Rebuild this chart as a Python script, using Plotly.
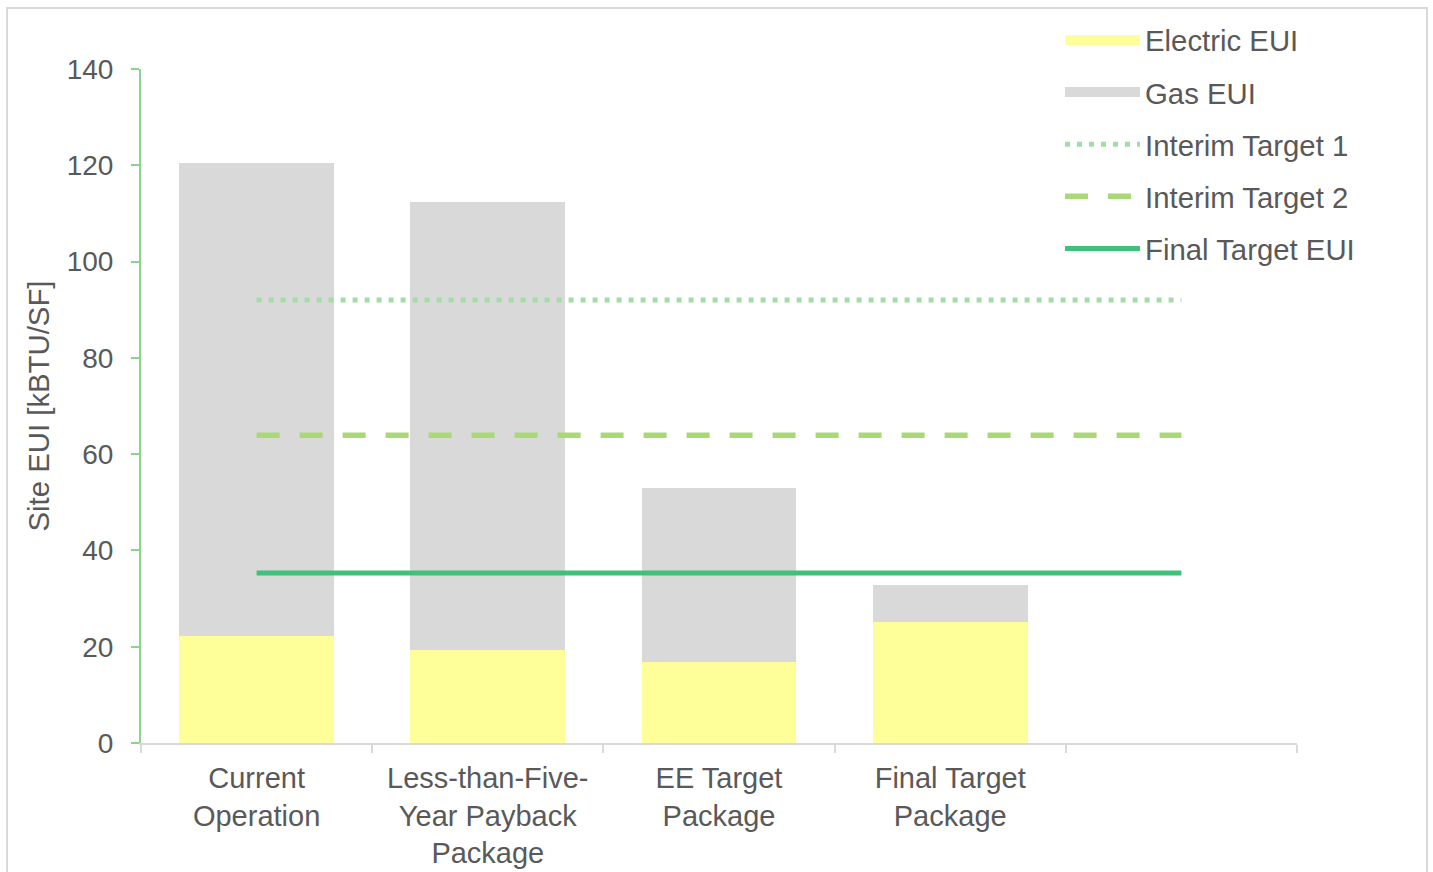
import plotly.graph_objects as go

categories = ["Current Operation", "Less-than-Five-Year Payback Package",
              "EE Target Package", "Final Target Package", " "]
tick_labels = ["Current<br>Operation", "Less-than-Five-<br>Year Payback<br>Package",
               "EE Target<br>Package", "Final Target<br>Package", ""]
electric_eui = [22.3, 19.4, 16.9, 25.2]
gas_eui = [98.2, 93.0, 36.1, 7.6]
interim_target_1 = 92.0
interim_target_2 = 63.9
final_target = 35.3

TXT = "#595959"
FONT = "Liberation Sans, Arial, sans-serif"
GREEN_AX = "#8AD48E"
ELEC = "#FFFF99"
GAS = "#D9D9D9"

fig = go.Figure()
fig.add_trace(go.Bar(x=categories[:4], y=electric_eui, name="Electric EUI",
                     marker=dict(color=ELEC, line=dict(width=0)), width=0.67,
                     showlegend=False, legendgroup="a"))
fig.add_trace(go.Bar(x=categories[:4], y=gas_eui, name="Gas EUI",
                     marker=dict(color=GAS, line=dict(width=0)), width=0.67,
                     showlegend=False, legendgroup="b"))
# legend swatches for the bar series (wide patches, as in the original)
fig.add_trace(go.Scatter(x=[None], y=[None], mode="lines", name="Electric EUI",
                         line=dict(color=ELEC, width=14), legendgroup="a"))
fig.add_trace(go.Scatter(x=[None], y=[None], mode="lines", name="Gas EUI",
                         line=dict(color=GAS, width=14), legendgroup="b"))
line_x = [categories[0], categories[-1]]
fig.add_trace(go.Scatter(x=line_x, y=[interim_target_1] * 2, mode="lines", name="Interim Target 1",
                         line=dict(color="#A3DDA5", width=5, dash="5px,7px"), legendgroup="c"))
fig.add_trace(go.Scatter(x=line_x, y=[interim_target_2] * 2, mode="lines", name="Interim Target 2",
                         line=dict(color="#A9D876", width=5.5, dash="23px,20px"), legendgroup="d"))
fig.add_trace(go.Scatter(x=line_x, y=[final_target] * 2, mode="lines", name="Final Target EUI",
                         line=dict(color="#3EC27B", width=5), legendgroup="e"))

fig.update_layout(
    barmode="stack",
    width=1433, height=872,
    margin=dict(l=141, r=136, t=69, b=129),
    paper_bgcolor="white", plot_bgcolor="white",
    font=dict(family=FONT, size=28, color=TXT),
    legend=dict(x=0.795, y=1.081, xanchor="left", yanchor="top",
                font=dict(size=29.33, color=TXT), tracegroupgap=11,
                traceorder="grouped", itemwidth=75, bgcolor="rgba(0,0,0,0)"),
    xaxis=dict(type="category", categoryorder="array", categoryarray=categories,
               range=[-0.5, 4.5], tickvals=categories, ticktext=tick_labels,
               tickson="boundaries", ticks="outside", ticklen=8, tickwidth=2,
               tickcolor="#D9D9D9", showline=True, linecolor="#D9D9D9", linewidth=2,
               showgrid=False, tickfont=dict(size=29, color=TXT), ticklabelstandoff=8,
               automargin=False),
    yaxis=dict(range=[0, 140], dtick=20, showgrid=False, zeroline=False,
               showline=True, linecolor=GREEN_AX, linewidth=2,
               ticks="outside", ticklen=8, tickwidth=2, tickcolor=GREEN_AX,
               tickfont=dict(size=28, color=TXT), ticklabelstandoff=12, automargin=False,
               title=dict(text="Site EUI [kBTU/SF]", font=dict(size=29.33, color=TXT), standoff=8)),
    yaxis2=dict(range=[0, 140], dtick=20, overlaying="y", side="left", showgrid=False,
                zeroline=False, showline=False, ticks="inside", ticklen=8, tickwidth=2,
                tickcolor=GREEN_AX, showticklabels=False, automargin=False),
    shapes=[dict(type="rect", xref="paper", yref="paper",
                 x0=(7 - 141) / 1156, x1=(1427 - 141) / 1156,
                 y0=-0.3, y1=(743 - 8) / 674,
                 line=dict(color="#D9D9D9", width=2), layer="below")],
)

fig.write_html("out.html")
